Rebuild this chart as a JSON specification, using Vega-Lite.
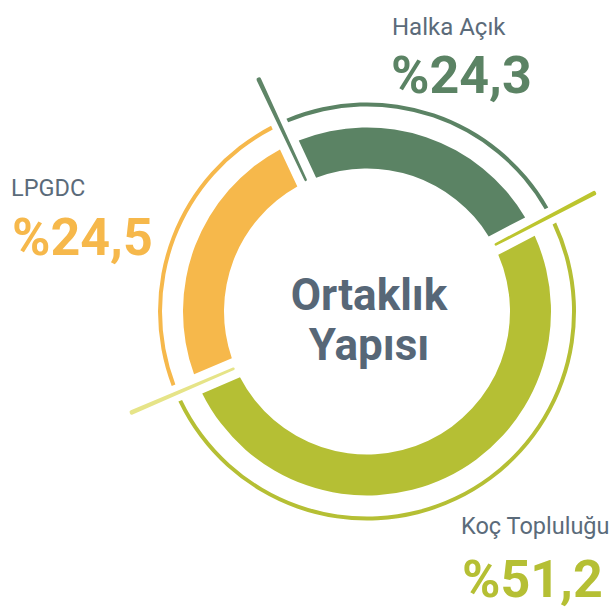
{
  "$schema": "https://vega.github.io/schema/vega-lite/v6.json",
  "width": 498,
  "height": 595,
  "autosize": {"type": "none"},
  "padding": {"left": 118, "top": 14, "right": 0, "bottom": 0},
  "background": "white",
  "config": {
    "view": {"stroke": null},
    "text": {"font": "Roboto"},
    "locale": {"number": {"decimal": ",", "thousands": ".", "grouping": [3], "currency": ["%", ""]}}
  },
  "data": {
    "values": [
      {"name": "Halka Açık", "pct": 24.3, "order": 1},
      {"name": "Koç Topluluğu", "pct": 51.2, "order": 2},
      {"name": "LPGDC", "pct": 24.5, "order": 3}
    ]
  },
  "transform": [
    {"stack": "pct", "groupby": [], "sort": [{"field": "order", "order": "ascending"}], "as": ["s0", "s1"]}
  ],
  "layer": [
    {
      "mark": {"type": "arc", "radius": 184, "radius2": 143, "padAngle": 0.089},
      "encoding": {
        "theta": {"field": "s0", "type": "quantitative", "scale": {"domain": [0, 100], "range": [-0.4363, 5.8469]}},
        "theta2": {"field": "s1"},
        "color": {"field": "name", "type": "nominal", "legend": null,
          "scale": {"domain": ["Halka Açık", "Koç Topluluğu", "LPGDC"], "range": ["#5b8364", "#b5bf34", "#f6b84b"]}}
      }
    },
    {
      "mark": {"type": "arc", "radius": 209, "radius2": 205, "padAngle": 0.058},
      "encoding": {
        "theta": {"field": "s0", "type": "quantitative"},
        "theta2": {"field": "s1"},
        "color": {"field": "name", "type": "nominal", "legend": null}
      }
    },
    {
      "mark": {"type": "arc", "radius": 258, "radius2": 144, "thetaOffset": -0.009, "theta2Offset": 0.009, "cornerRadius": 2},
      "encoding": {
        "theta": {"field": "s0", "type": "quantitative"},
        "theta2": {"field": "s0"},
        "fill": {"field": "name", "type": "nominal", "legend": null,
          "scale": {"domain": ["Halka Açık", "Koç Topluluğu", "LPGDC"], "range": ["#5f8567", "#bcc52e", "#e6e488"]}}
      }
    },
    {
      "transform": [{"filter": "datum.order === 1"}],
      "mark": {"type": "text", "text": ["Ortaklık", "Yapısı"], "align": "center", "baseline": "alphabetic", "lineHeight": 50, "dx": 2, "dy": -1.5, "fontSize": 44, "fontWeight": "bold", "font": "Roboto", "color": "#576777"},
      "encoding": {}
    },
    {
      "transform": [{"filter": "datum.name === 'Halka Açık'"}],
      "mark": {"type": "text", "align": "left", "baseline": "alphabetic", "dx": 25, "dy": -276.5, "fontSize": 24, "font": "Roboto", "color": "#5b6b7a"},
      "encoding": {"text": {"field": "name"}}
    },
    {
      "transform": [{"filter": "datum.name === 'Halka Açık'"}],
      "mark": {"type": "text", "align": "left", "baseline": "alphabetic", "dx": 24, "dy": -218.5, "fontSize": 52, "fontWeight": "bold", "font": "Roboto"},
      "encoding": {"text": {"field": "pct", "type": "quantitative", "format": "$.1f"}, "color": {"field": "name", "type": "nominal", "legend": null}}
    },
    {
      "transform": [{"filter": "datum.name === 'LPGDC'"}],
      "mark": {"type": "text", "align": "left", "baseline": "alphabetic", "dx": -356, "dy": -115.5, "fontSize": 23.5, "font": "Roboto", "color": "#5b6b7a"},
      "encoding": {"text": {"field": "name"}}
    },
    {
      "transform": [{"filter": "datum.name === 'LPGDC'"}],
      "mark": {"type": "text", "align": "left", "baseline": "alphabetic", "dx": -355, "dy": -56.5, "fontSize": 52, "fontWeight": "bold", "font": "Roboto"},
      "encoding": {"text": {"field": "pct", "type": "quantitative", "format": "$.1f"}, "color": {"field": "name", "type": "nominal", "legend": null}}
    },
    {
      "transform": [{"filter": "datum.name === 'Koç Topluluğu'"}],
      "mark": {"type": "text", "align": "left", "baseline": "alphabetic", "dx": 94, "dy": 222.5, "fontSize": 23.5, "font": "Roboto", "color": "#5b6b7a"},
      "encoding": {"text": {"field": "name"}}
    },
    {
      "transform": [{"filter": "datum.name === 'Koç Topluluğu'"}],
      "mark": {"type": "text", "align": "left", "baseline": "alphabetic", "dx": 95, "dy": 285, "fontSize": 52, "fontWeight": "bold", "font": "Roboto"},
      "encoding": {"text": {"field": "pct", "type": "quantitative", "format": "$.1f"}, "color": {"field": "name", "type": "nominal", "legend": null}}
    }
  ]
}
